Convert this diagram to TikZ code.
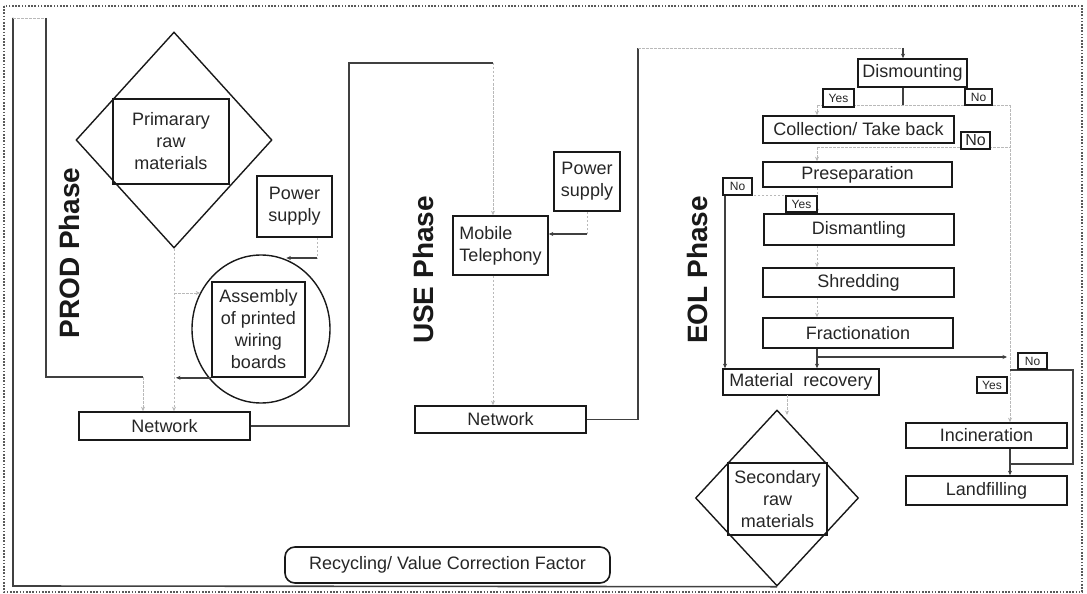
\documentclass[tikz,border=0pt]{standalone}
\usepackage{fontspec}
\setmainfont{Liberation Sans}
\usetikzlibrary{shapes.geometric,arrows.meta}
\begin{document}
\begin{tikzpicture}[x=1pt,y=-1pt,
 box/.style={draw=black!90, line width=1.6pt, inner sep=0pt, text=black!85, font=\fontsize{18}{22}\selectfont, align=center},
 lbl/.style={draw=black!90, line width=1.3pt, fill=white, inner sep=0pt, text=black!85, font=\fontsize{12}{14}\selectfont},
 shp/.style={draw=black!90, line width=1.4pt, inner sep=0pt},
 dashc/.style={draw=gray!55, line width=0.7pt, dash pattern=on 2.5pt off 1.5pt},
 solidc/.style={draw=black!75, line width=1.6pt},
 phase/.style={rotate=90, font=\fontsize{28}{30}\selectfont\bfseries, text=black!90},
 arr/.style={-{Stealth[length=4.5pt,width=4pt]}}
]
\useasboundingbox (0,0) rectangle (1087,594);
\draw[line width=1.8pt, black!65, dash pattern=on 1.6pt off 1.6pt] (4,6) rectangle (1082,592);

% ---------- PROD ----------
\node[shp, shape=diamond, minimum width=196pt, minimum height=216pt] (primd) at (174,140) {};
\node[box, minimum width=116pt, minimum height=85pt] (prim) at (171,141.5) {Primarary\\raw\\materials};
\node[box, minimum width=75pt, minimum height=61pt] (psP) at (294.5,206.5) {Power\\supply};
\node[shp, ellipse, minimum width=138pt, minimum height=148pt] (circ) at (261,329) {};
\node[box, minimum width=93pt, minimum height=95pt] (asm) at (258.5,329.5) {Assembly\\of printed\\wiring\\boards};
\node[box, minimum width=171pt, minimum height=28pt] (netP) at (164.5,426) {Network};
\node[phase] (prodl) at (69,253) {PROD Phase};

% ---------- USE ----------
\node[box, minimum width=95pt, minimum height=59pt, align=left] (mob) at (500.5,245.5) {Mobile\\Telephony};
\node[box, minimum width=66pt, minimum height=59pt] (psU) at (587,181.5) {Power\\supply};
\node[box, minimum width=171pt, minimum height=27pt] (netU) at (500.5,419.5) {Network};
\node[phase] (usel) at (423,270) {USE Phase};

% ---------- EOL ----------
\node[box, minimum width=109pt, minimum height=28pt] (dism) at (912.5,73) {Dismounting};
\node[box, minimum width=191pt, minimum height=27pt] (coll) at (858.5,129.5) {Collection/ Take back};
\node[box, minimum width=189pt, minimum height=25pt] (prep) at (857.5,174.5) {Preseparation};
\node[box, minimum width=190pt, minimum height=31pt] (dismt) at (859,229.5) {Dismantling};
\node[box, minimum width=191pt, minimum height=29pt] (shred) at (858.5,282.5) {Shredding};
\node[box, minimum width=190pt, minimum height=30pt] (frac) at (858,333) {Fractionation};
\node[box, minimum width=156pt, minimum height=26pt] (matrec) at (801,382) {Material\ \ recovery};
\node[shp, shape=diamond, minimum width=163pt, minimum height=176pt] (secd) at (777,498) {};
\node[box, minimum width=99pt, minimum height=72pt] (sec) at (777.5,499) {Secondary\\raw\\materials};
\node[box, minimum width=161pt, minimum height=25pt] (incin) at (986.5,435.5) {Incineration};
\node[box, minimum width=161pt, minimum height=29pt] (landf) at (986.5,490.5) {Landfilling};
\node[phase] (eoll) at (697,270) {EOL Phase};

\node[box, rounded corners=10pt, minimum width=325pt, minimum height=36pt] (recy) at (447.5,565) {Recycling/ Value Correction Factor};

% ---------- coordinates ----------
\coordinate (lb) at (13,586);
\coordinate (lt) at (13,18);
\coordinate (lt2) at (46,18);
\coordinate (lm) at (46,377);
\coordinate (lm2) at (143,377);
\coordinate (br) at (174,293);
\coordinate (pp1) at (317,258);
\coordinate (pu) at (349,63);
\coordinate (pu2) at (493,63);
\coordinate (pw) at (587,234);
\coordinate (eu) at (638,48);
\coordinate (eu2) at (903,48);
\coordinate (d1) at (903,105);
\coordinate (yL) at (817,105);
\coordinate (yR) at (1010,105);
\coordinate (c1) at (817,147);
\coordinate (p1) at (817,195);
\coordinate (p0) at (725,195);
\coordinate (f1) at (817,357);
\coordinate (n1) at (1010,370);
\coordinate (n2) at (1073,370);
\coordinate (n3) at (1010,464);
\coordinate (m1) at (787,395);
\coordinate (m2) at (787,415);

% ---------- PROD connectors ----------
\draw[solidc] (secd.south) -- (lb) -- (lt);
\draw[dashc] (lt) -- (lt2);
\draw[solidc] (lt2) -- (lm) -- (lm2);
\draw[dashc,arr] (lm2) -- (lm2 |- netP.north);
\draw[dashc,arr] (primd.south) -- (primd.south |- netP.north);
\draw[dashc,arr] (br) -- (br -| circ.149);
\draw[dashc] (psP.south -| pp1) -- (pp1);
\draw[solidc,arr] (pp1) -- (pp1 -| circ.70);
\draw[solidc,arr,shorten >=2pt] (asm.south west) -- (primd.south |- asm.south west);
\draw[solidc] (netP.east) -| (pu) -- (pu2);
\draw[dashc,arr] (pu2) -- (pu2 |- mob.north);

% ---------- USE connectors ----------
\draw[dashc] (psU.south) -- (pw);
\draw[solidc,arr] (pw) -- (mob.east |- pw);
\draw[dashc,arr] (pu2 |- mob.south) -- (pu2 |- netU.north);
\draw[solidc] (netU.east) -| (eu);
\draw[dashc] (eu) -- (eu2);
\draw[solidc,arr] (eu2) -- (eu2 |- dism.north);

% ---------- EOL connectors ----------
\draw[solidc] (eu2 |- dism.south) -- (d1);
\draw[dashc] (yL) -- (yR);
\draw[dashc,arr] (yL) -- (yL |- coll.north);
\draw[dashc,arr] (yR) -- (yR |- incin.north);
\draw[dashc] (c1) -- (c1 -| yR);
\draw[dashc,arr] (c1) -- (c1 |- prep.north);
\draw[dashc] (p1 |- prep.south) -- (p1) -- (p0);
\draw[dashc,arr] (p1) -- (p1 |- dismt.north);
\draw[solidc,arr] (p0) -- (p0 |- matrec.north);
\draw[dashc,arr] (p1 |- dismt.south) -- (p1 |- shred.north);
\draw[dashc,arr] (p1 |- shred.south) -- (p1 |- frac.north);
\draw[solidc,arr] (p1 |- frac.south) -- (p1 |- matrec.north);
\draw[solidc,arr,shorten >=3pt] (f1) -- (f1 -| yR);
\draw[solidc] (n1) -- (n2) |- (n3);
\draw[solidc,arr] (yR |- incin.south) -- (yR |- landf.north);
\draw[dashc,arr] (m1) -- (m2);

% ---------- Yes / No labels ----------
\node[lbl, minimum width=31pt, minimum height=18pt] (yes1) at (838.5,98) {Yes};
\node[lbl, minimum width=27pt, minimum height=16pt] (no1) at (978.5,97) {No};
\node[lbl, minimum width=29pt, minimum height=17pt, font=\fontsize{16}{18}\selectfont] (no2) at (975.5,140.5) {No};
\node[lbl, minimum width=29pt, minimum height=17pt] (no3) at (737.5,186.5) {No};
\node[lbl, minimum width=31pt, minimum height=16pt] (yes2) at (801.5,204) {Yes};
\node[lbl, minimum width=29pt, minimum height=16pt] (no4) at (1032.5,361) {No};
\node[lbl, minimum width=30pt, minimum height=16pt] (yes3) at (992,385) {Yes};
\end{tikzpicture}
\end{document}
